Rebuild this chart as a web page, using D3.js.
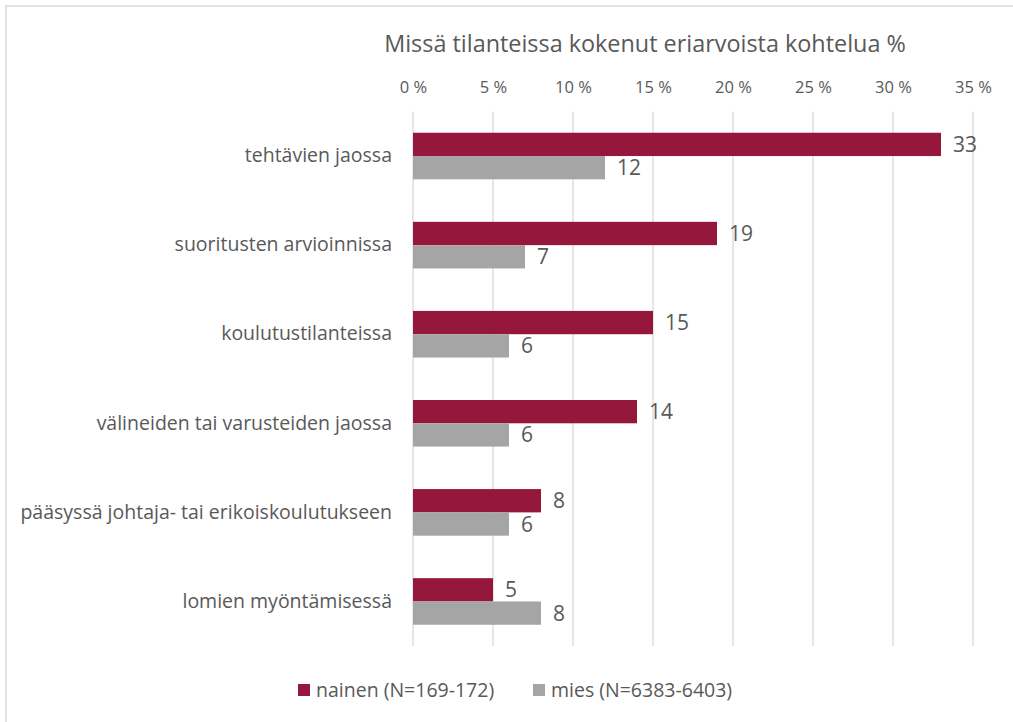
<!DOCTYPE html>
<html>
<head>
<meta charset="utf-8">
<script src="https://cdnjs.cloudflare.com/ajax/libs/d3/7.8.5/d3.min.js"></script>
<style>
  body { margin: 0; background: #fff; }
  svg { font-family: "Open Sans", sans-serif; }
</style>
</head>
<body>
<div id="chart"></div>
<script>
var widthsvg = 1013;
var heightsvg = 722;

// data
var categories = [
  "tehtävien jaossa",
  "suoritusten arvioinnissa",
  "koulutustilanteissa",
  "välineiden tai varusteiden jaossa",
  "pääsyssä johtaja- tai erikoiskoulutukseen",
  "lomien myöntämisessä"
];
var nainen = [33, 19, 15, 14, 8, 5];
var mies = [12, 7, 6, 6, 6, 8];
var seriesNames = ["nainen (N=169-172)", "mies (N=6383-6403)"];
var seriesColors = ["#95173C", "#A5A5A5"];
var xTicks = [0, 5, 10, 15, 20, 25, 30, 35];
var chartTitle = "Missä tilanteissa kokenut eriarvoista kohtelua %";

var chartmargin = {top: 111.5, right: 40, bottom: 76, left: 413};
var width = 973 - chartmargin.left;
var height = 646 - chartmargin.top;

var svg = d3.select("#chart")
    .append("svg")
    .attr("width", widthsvg)
    .attr("height", heightsvg);

// outer frame
svg.append("rect")
    .attr("x", 6).attr("y", 6)
    .attr("width", widthsvg + 20).attr("height", heightsvg + 20)
    .attr("fill", "none")
    .attr("stroke", "#D9D9D9")
    .attr("stroke-width", 1.5);

svg.append("text")
    .attr("x", 645)
    .attr("y", 52)
    .attr("text-anchor", "middle")
    .attr("fill", "#595959")
    .style("font-size", "23.4px")
    .text(chartTitle);

var chartGroup = svg.append("g")
    .attr("transform", `translate(${chartmargin.left}, ${chartmargin.top})`);

var scalex = d3.scaleLinear()
    .domain([0, 35])
    .range([0, width]);

var scaley = d3.scaleBand()
    .domain(categories)
    .range([0, height])
    .paddingInner(0.477)
    .paddingOuter(0.2385);

var inner = d3.scaleBand()
    .domain([0, 1])
    .range([0, scaley.bandwidth()]);

// gridlines
chartGroup.append("g")
    .selectAll("line")
    .data(xTicks)
    .enter()
    .append("line")
    .attr("x1", d => scalex(d))
    .attr("x2", d => scalex(d))
    .attr("y1", 0)
    .attr("y2", height)
    .attr("stroke", "#D9D9D9")
    .attr("stroke-width", 1.3);

// top axis labels
var axistop = d3.axisTop(scalex)
    .tickValues(xTicks)
    .tickSize(0)
    .tickPadding(0)
    .tickFormat(d => d + " %");

var ax = chartGroup.append("g")
    .attr("transform", "translate(0, -18.5)")
    .call(axistop);
ax.select(".domain").remove();
ax.selectAll("text")
    .attr("fill", "#595959")
    .style("font-size", "16.5px")
    .style("font-family", "Open Sans");

// category labels
var ay = chartGroup.append("g")
    .call(d3.axisLeft(scaley).tickSize(0).tickPadding(21));
ay.select(".domain").remove();
ay.selectAll("text")
    .attr("fill", "#595959")
    .style("font-size", "19.5px")
    .style("font-family", "Open Sans");

// bars
var seriesData = [nainen, mies];
seriesData.forEach(function(values, s) {
    var g = chartGroup.append("g");
    g.selectAll("rect")
        .data(values)
        .enter()
        .append("rect")
        .attr("x", 0)
        .attr("y", (d, i) => scaley(categories[i]) + inner(s))
        .attr("width", d => scalex(d))
        .attr("height", inner.bandwidth())
        .attr("fill", seriesColors[s]);

    g.selectAll("text")
        .data(values)
        .enter()
        .append("text")
        .attr("x", d => scalex(d) + 12)
        .attr("y", (d, i) => scaley(categories[i]) + inner(s) + inner.bandwidth() / 2)
        .attr("dy", "0.36em")
        .attr("fill", "#595959")
        .style("font-size", "21px")
        .text(d => d);
});

// legend
var legendX = [298, 533];
var legend = svg.append("g");
seriesNames.forEach(function(name, s) {
    legend.append("rect")
        .attr("x", legendX[s])
        .attr("y", 684)
        .attr("width", 12)
        .attr("height", 12)
        .attr("fill", seriesColors[s]);
    legend.append("text")
        .attr("x", legendX[s] + 18)
        .attr("y", 690)
        .attr("dy", "0.36em")
        .attr("fill", "#595959")
        .style("font-size", "19.5px")
        .text(name);
});
</script>
</body>
</html>
